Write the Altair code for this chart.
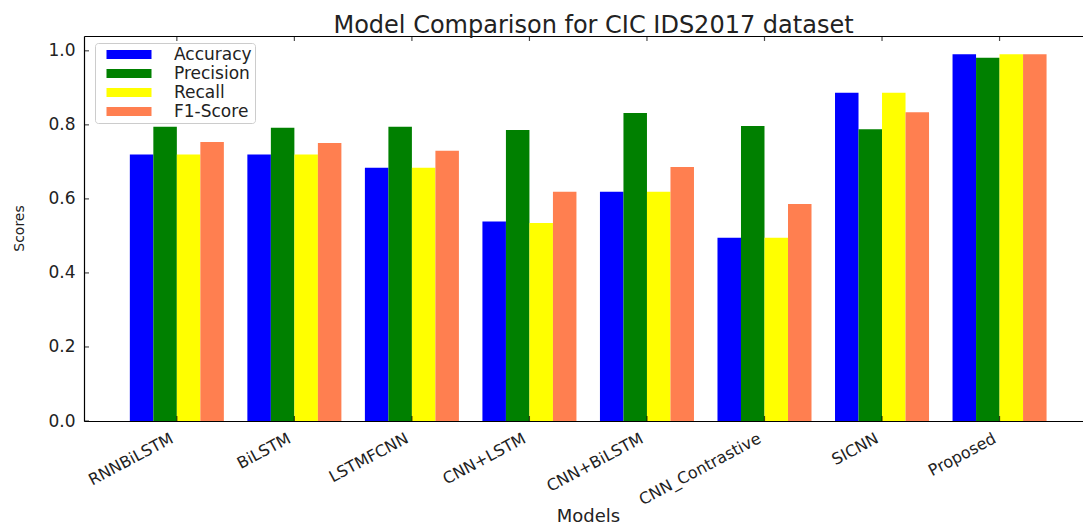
import altair as alt
import pandas as pd

# Models and their scores for each metric
models = ["RNNBiLSTM", "BiLSTM", "LSTMFCNN", "CNN+LSTM", "CNN+BiLSTM",
          "CNN_Contrastive", "SICNN", "Proposed"]
metrics = ["Accuracy", "Precision", "Recall", "F1-Score"]
colors = ["#0000ff", "#008000", "#ffff00", "#ff7f50"]

accuracy = [0.720, 0.720, 0.684, 0.539, 0.619, 0.495, 0.887, 0.991]
precision = [0.795, 0.792, 0.795, 0.786, 0.832, 0.797, 0.788, 0.981]
recall = [0.720, 0.720, 0.684, 0.535, 0.619, 0.495, 0.887, 0.991]
f1_score = [0.754, 0.751, 0.730, 0.619, 0.686, 0.586, 0.834, 0.991]

y_ticks = [0.0, 0.2, 0.4, 0.6, 0.8, 1.0]

series = [accuracy, precision, recall, f1_score]
rows = []
for slot, metric in enumerate(metrics):
    for group, model in enumerate(models):
        rows.append({"model": model, "group": group, "metric": metric,
                     "slot": slot, "score": series[slot][group]})
df = pd.DataFrame(rows)
groups_df = pd.DataFrame({"group": list(range(len(models)))})
yticks_df = pd.DataFrame({"v": y_ticks})

FONT = "DejaVu Sans"
TEXT = "#222222"
W, H = 999, 385
BAR = 0.2

xscale = alt.Scale(domain=[-0.79, 7.71], nice=False, zero=False)
yscale = alt.Scale(domain=[0, 1.04], nice=False)

names_js = "[" + ",".join("'" + m + "'" for m in models) + "]"

bars = alt.Chart(df).transform_calculate(
    x0=f"datum.group - {2 * BAR} + {BAR} * datum.slot",
    x1=f"datum.group - {BAR} + {BAR} * datum.slot",
).mark_bar().encode(
    x=alt.X("x0:Q", scale=xscale, axis=alt.Axis(
        values=list(range(len(models))),
        labelExpr=f"{names_js}[datum.value]",
        labelAngle=-28, labelAlign="right", labelBaseline="top",
        labelOverlap=False,
        labelOffset=-9, labelPadding=9, labelFontSize=16, labelFont=FONT,
        labelColor=TEXT, ticks=False, tickSize=0, grid=False,
        domainColor="black", domainWidth=1.2,
        title="Models", titleFont=FONT, titleFontSize=18,
        titleFontWeight="normal", titleColor=TEXT,
        titleX=504, titleY=95, titleAlign="center", titleBaseline="middle",
    )),
    x2="x1:Q",
    y=alt.Y("score:Q", scale=yscale, axis=alt.Axis(
        values=y_ticks, format=".1f", ticks=False, tickSize=0, grid=False,
        labelPadding=9, labelFontSize=17, labelFont=FONT, labelColor=TEXT,
        domainColor="black", domainWidth=1.2,
        title="Scores", titleFont=FONT, titleFontSize=14,
        titleFontWeight="normal", titleColor=TEXT,
        titleX=-65, titleY=192, titleAngle=270,
        titleAlign="center", titleBaseline="middle",
    )),
    y2=alt.datum(0),
    color=alt.Color("metric:N", scale=alt.Scale(domain=metrics, range=colors),
                    legend=alt.Legend(
                        orient="none", legendX=11, legendY=7, title=None,
                        symbolType="M0,-1H10V1H0Z", symbolSize=81,
                        symbolStrokeWidth=0, symbolOpacity=1,
                        labelOffset=59, labelFontSize=17, labelFont=FONT,
                        labelColor=TEXT, rowPadding=1, padding=3,
                        strokeColor="#cccccc", fillColor="white",
                        cornerRadius=3,
                    )),
)

# inward tick marks along the frame
bottom_ticks = alt.Chart(groups_df).mark_tick(
    orient="vertical", color="black", size=5, thickness=1.2
).encode(
    x=alt.X("group:Q", scale=xscale, axis=None),
    y=alt.value(H - 2.5),
)

top_ticks = alt.Chart(groups_df).mark_tick(
    orient="vertical", color="black", size=5, thickness=1.2
).encode(
    x=alt.X("group:Q", scale=xscale, axis=alt.Axis(
        orient="top", labels=False, ticks=False, grid=False, title=None,
        domainColor="black", domainWidth=1.2)),
    y=alt.value(2.5),
)

left_ticks = alt.Chart(yticks_df).mark_tick(
    orient="horizontal", color="black", size=5, thickness=1.2
).encode(
    y=alt.Y("v:Q", scale=yscale, axis=None),
    x=alt.value(2.5),
)

chart = alt.layer(bars, bottom_ticks, top_ticks, left_ticks).resolve_axis(
    x="independent", y="independent"
).properties(
    width=W, height=H,
    autosize=alt.AutoSizeParams(type="none"),
    padding={"left": 84, "top": 36, "right": 0, "bottom": 104},
    title=alt.TitleParams(
        "Model Comparison for CIC IDS2017 dataset", font=FONT, fontSize=24,
        fontWeight="normal", color=TEXT, anchor="middle", dx=10, dy=24,
        baseline="alphabetic", offset=3,
    ),
).configure_view(stroke=None).configure(background="white")

chart.save("out.html", embed_options={"renderer": "svg", "actions": False})
